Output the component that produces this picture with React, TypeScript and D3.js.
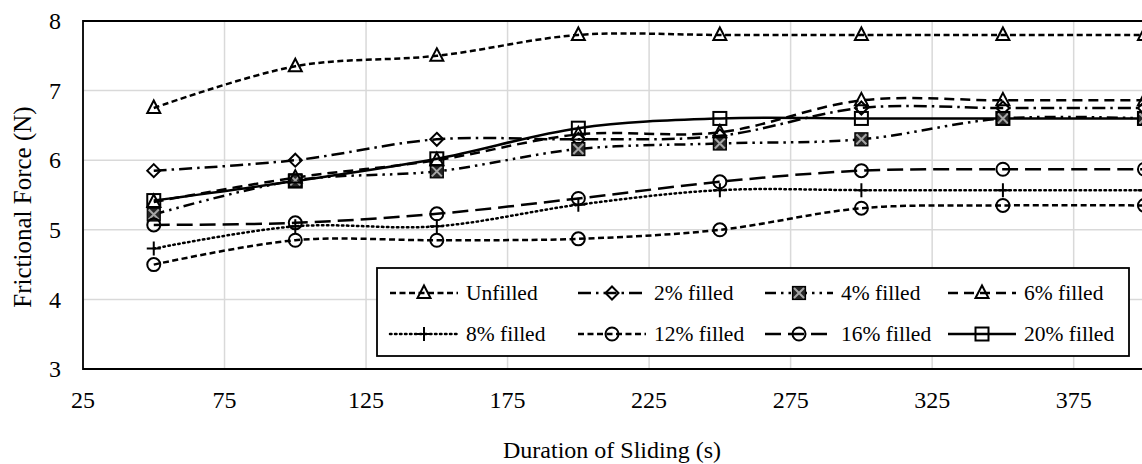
import React, { useEffect, useRef } from 'react';
import * as d3 from 'd3';

// sliding duration (s)
const durations = [50, 100, 150, 200, 250, 300, 350, 400];

// frictional force (N) per filler content
const unfilled = [6.75, 7.35, 7.5, 7.8, 7.8, 7.8, 7.8, 7.8];
const filled2 = [5.85, 6.0, 6.3, 6.3, 6.35, 6.75, 6.75, 6.75];
const filled4 = [5.22, 5.71, 5.84, 6.16, 6.24, 6.3, 6.6, 6.6];
const filled6 = [5.4, 5.75, 6.0, 6.37, 6.4, 6.86, 6.86, 6.86];
const filled8 = [4.73, 5.05, 5.05, 5.36, 5.57, 5.57, 5.57, 5.57];
const filled12 = [4.5, 4.85, 4.85, 4.87, 5.0, 5.31, 5.35, 5.35];
const filled16 = [5.07, 5.1, 5.23, 5.45, 5.69, 5.85, 5.87, 5.87];
const filled20 = [5.42, 5.7, 6.02, 6.46, 6.6, 6.6, 6.6, 6.6];

const seriesNames = ['Unfilled', '2% filled', '4% filled', '6% filled', '8% filled', '12% filled', '16% filled', '20% filled'];
const seriesValues = [unfilled, filled2, filled4, filled6, filled8, filled12, filled16, filled20];

const xTicks = [25, 75, 125, 175, 225, 275, 325, 375];
const yTicks = [3, 4, 5, 6, 7, 8];

// line dash + marker per series
const dashes = ['6,3.5', '13,5,2.5,5', '11,5,2.5,5,2.5,5', '10,6', '1.5,3.5', '6,3.5', '16,7', null];
const markers = ['triangle', 'diamond', 'xsquare', 'triangle', 'plus', 'circle', 'circle', 'square'];

const FONT = 'Liberation Serif';

function drawMarker(g: any, kind: string, cx: number, cy: number) {
    if (kind === 'triangle') {
        g.append('path')
            .attr('d', `M${cx},${cy - 7.5}L${cx + 6.5},${cy + 5}L${cx - 6.5},${cy + 5}Z`)
            .attr('fill', 'none').attr('stroke', '#000').attr('stroke-width', 2);
    } else if (kind === 'diamond') {
        g.append('path')
            .attr('d', `M${cx},${cy - 6.5}L${cx + 6.5},${cy}L${cx},${cy + 6.5}L${cx - 6.5},${cy}Z`)
            .attr('fill', 'none').attr('stroke', '#000').attr('stroke-width', 2);
    } else if (kind === 'circle') {
        g.append('circle')
            .attr('cx', cx).attr('cy', cy).attr('r', 6.5)
            .attr('fill', 'none').attr('stroke', '#000').attr('stroke-width', 2);
    } else if (kind === 'square') {
        g.append('rect')
            .attr('x', cx - 6.5).attr('y', cy - 6.5).attr('width', 13).attr('height', 13)
            .attr('fill', 'none').attr('stroke', '#000').attr('stroke-width', 2);
    } else if (kind === 'xsquare') {
        g.append('rect')
            .attr('x', cx - 6.5).attr('y', cy - 6.5).attr('width', 13).attr('height', 13)
            .attr('fill', '#262626').attr('stroke', '#000').attr('stroke-width', 1.2);
        g.append('path')
            .attr('d', `M${cx - 5},${cy - 5}L${cx + 5},${cy + 5}M${cx + 5},${cy - 5}L${cx - 5},${cy + 5}`)
            .attr('stroke', '#a6a6a6').attr('stroke-width', 2);
    } else if (kind === 'plus') {
        g.append('path')
            .attr('d', `M${cx - 7},${cy}L${cx + 7},${cy}M${cx},${cy - 7}L${cx},${cy + 7}`)
            .attr('stroke', '#000').attr('stroke-width', 2);
    }
}

export default function App() {
    const ref = useRef<SVGSVGElement>(null);
    const width = 1142;
    const height = 464;
    const margin = { top: 21, left: 83, bottom: 95 };

    useEffect(() => {
        const svg = d3.select(ref.current);
        svg.selectAll('*').remove();

        const x = d3.scaleLinear().domain([25, 425]).range([margin.left, margin.left + 400 * 2.8305]);
        const y = d3.scaleLinear().domain([3, 8]).range([height - margin.bottom, margin.top]);

        svg.append('defs').append('clipPath').attr('id', 'plot-clip')
            .append('rect')
            .attr('x', margin.left).attr('y', 0)
            .attr('width', width).attr('height', height);

        // grid
        const grid = svg.append('g');
        yTicks.forEach(t => {
            grid.append('line')
                .attr('x1', margin.left).attr('x2', width)
                .attr('y1', y(t)).attr('y2', y(t))
                .attr('stroke', '#d9d9d9').attr('stroke-width', 1.5);
        });
        xTicks.forEach(t => {
            grid.append('line')
                .attr('x1', x(t)).attr('x2', x(t))
                .attr('y1', y(3)).attr('y2', y(8))
                .attr('stroke', '#d9d9d9').attr('stroke-width', 1.5);
        });

        // plot border
        svg.append('path')
            .attr('d', `M${width},${y(8)}L${margin.left},${y(8)}L${margin.left},${y(3)}L${width},${y(3)}`)
            .attr('fill', 'none').attr('stroke', '#000').attr('stroke-width', 1.8);

        // tick labels
        yTicks.forEach(t => {
            svg.append('text')
                .attr('x', 61).attr('y', y(t))
                .attr('dy', '0.34em')
                .attr('text-anchor', 'end')
                .attr('font-family', FONT).attr('font-size', 24)
                .text(t);
        });
        xTicks.forEach(t => {
            svg.append('text')
                .attr('x', x(t)).attr('y', 400)
                .attr('dy', '0.34em')
                .attr('text-anchor', 'middle')
                .attr('font-family', FONT).attr('font-size', 24)
                .text(t);
        });

        // axis titles
        svg.append('text')
            .attr('transform', `translate(22,207) rotate(-90)`)
            .attr('dy', '0.34em')
            .attr('text-anchor', 'middle')
            .attr('font-family', FONT).attr('font-size', 25)
            .text('Frictional Force (N)');
        svg.append('text')
            .attr('x', 612).attr('y', 450)
            .attr('dy', '0.34em')
            .attr('text-anchor', 'middle')
            .attr('font-family', FONT).attr('font-size', 24)
            .text('Duration of Sliding (s)');

        // series (smoothed like the spreadsheet)
        const line = d3.line<number>()
            .x((d, i) => x(durations[i]))
            .y(d => y(d))
            .curve(d3.curveCatmullRom.alpha(0.5));

        const plot = svg.append('g').attr('clip-path', 'url(#plot-clip)');
        seriesValues.forEach((vals, si) => {
            const p = plot.append('path')
                .attr('d', line(vals))
                .attr('fill', 'none')
                .attr('stroke', '#000')
                .attr('stroke-width', 2.5)
                .attr('stroke-linecap', si === 4 ? 'round' : 'butt');
            if (dashes[si]) p.attr('stroke-dasharray', dashes[si]);
        });
        seriesValues.forEach((vals, si) => {
            vals.forEach((v, i) => drawMarker(plot, markers[si], x(durations[i]), y(v)));
        });

        // legend
        const lg = svg.append('g');
        lg.append('rect')
            .attr('x', 377).attr('y', 268)
            .attr('width', 752).attr('height', 88)
            .attr('fill', '#fff').attr('stroke', '#000').attr('stroke-width', 1.8);
        const colX = [390, 578, 765, 948];
        const rowY = [293, 334];
        seriesNames.forEach((name, si) => {
            const cx = colX[si % 4];
            const cy = rowY[Math.floor(si / 4)];
            const sl = lg.append('line')
                .attr('x1', cx).attr('x2', cx + 68)
                .attr('y1', cy).attr('y2', cy)
                .attr('stroke', '#000').attr('stroke-width', 2.5)
                .attr('stroke-linecap', si === 4 ? 'round' : 'butt');
            if (dashes[si]) sl.attr('stroke-dasharray', dashes[si]);
            drawMarker(lg, markers[si], cx + 34, cy);
            lg.append('text')
                .attr('x', cx + 76).attr('y', cy)
                .attr('dy', '0.34em')
                .attr('font-family', FONT).attr('font-size', 21.5)
                .text(name);
        });
    }, []);

    return (
        <svg ref={ref} width={width} height={height}
            style={{ position: 'absolute', left: 0, top: 0, background: '#fff' }} />
    );
}
